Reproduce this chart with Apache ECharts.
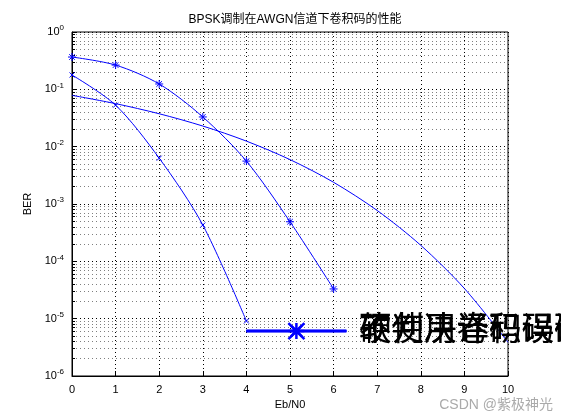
<!DOCTYPE html>
<html><head><meta charset="utf-8">
<script src="https://cdn.jsdelivr.net/npm/echarts@6/dist/echarts.min.js"></script>
<style>html,body{margin:0;background:#fff}#c{width:561px;height:420px}</style>
</head><body><div id="c"></div>
<script>
const ebn0 = [0, 1, 2, 3, 4, 5, 6, 7, 8, 9, 10];
const hardBer = [0.366, 0.265, 0.124, 0.033, 0.0056, 4.9e-4, 3.3e-5];
const softBer = [0.178, 0.053, 0.0063, 4.3e-4, 9.1e-6];
const uncodedBer = [0.0786, 0.0563, 0.0375, 0.0229, 0.0125, 0.00595, 0.00239, 7.7e-4, 1.9e-4, 3.36e-5, 3.87e-6];
const names = ['硬判决译码误码率', '软判决译码误码率', '不使用卷积码误码率'];

const STAR = 'path://M0,-10L0,10M-10,0L10,0M-7,-7L7,7M-7,7L7,-7';
const CROSS = 'path://M-7,-7L7,7M-7,7L7,-7';
const EMPTY = 'path://M0,0L0.01,0';
const blue = '#0000ff';
const pairs = arr => arr.map((v, i) => [ebn0[i], v]);
const font = 'Arial, "Liberation Sans", "Noto Sans CJK SC"';

const chart = echarts.init(document.getElementById('c'));
chart.setOption({
  animation: false,
  textStyle: {fontFamily: font},
  title: {text: 'BPSK调制在AWGN信道下卷积码的性能', left: 290, textAlign: 'center', top: 9,
    textStyle: {fontSize: 12, fontWeight: 'normal', color: '#000', fontFamily: font}},
  grid: {left: 72, right: 53, top: 32, bottom: 44, show: true, borderColor: '#000', borderWidth: 1},
  legend: {
    orient: 'vertical', right: 56, top: 38, itemGap: 3, itemWidth: 40, itemHeight: 8,
    backgroundColor: '#fff', borderColor: '#000', borderWidth: 1, padding: [4, 8],
    lineStyle: {width: 1}, itemStyle: {borderWidth: 1},
    textStyle: {fontSize: 13, color: '#000'}, data: names
  },
  xAxis: {
    type: 'value', min: 0, max: 10, interval: 1,
    name: 'Eb/N0', nameLocation: 'middle', nameGap: 20, nameTextStyle: {fontSize: 11, color: '#000'},
    axisLine: {lineStyle: {color: '#000'}}, axisTick: {inside: true, lineStyle: {color: '#000'}},
    axisLabel: {color: '#000', fontSize: 11},
    splitLine: {lineStyle: {color: '#000', type: [1, 3], width: 1}}
  },
  yAxis: {
    type: 'log', min: 1e-6, max: 1, logBase: 10,
    name: 'BER', nameLocation: 'middle', nameGap: 38, nameTextStyle: {fontSize: 11, color: '#000'},
    axisLine: {lineStyle: {color: '#000'}}, axisTick: {inside: true, lineStyle: {color: '#000'}},
    minorTick: {show: true, splitNumber: 9},
    minorSplitLine: {show: true, lineStyle: {color: '#000', type: [1, 3], opacity: 0.5}},
    axisLabel: {color: '#000', fontSize: 11,
      formatter: v => '10{s|' + Math.round(Math.log10(v)) + '}',
      rich: {s: {fontSize: 8, verticalAlign: 'top', padding: [0, 0, 8, 0], color: '#000'}}},
    splitLine: {lineStyle: {color: '#000', type: [1, 3], width: 1}}
  },
  series: [
    {name: names[0], type: 'line', data: pairs(hardBer), smooth: 0.3, symbol: STAR, symbolSize: 8,
      lineStyle: {color: blue, width: 1}, itemStyle: {color: 'none', borderColor: blue, borderWidth: 1}},
    {name: names[1], type: 'line', data: pairs(softBer), smooth: 0.3, symbol: CROSS, symbolSize: 5,
      lineStyle: {color: blue, width: 1}, itemStyle: {color: 'none', borderColor: blue, borderWidth: 1}},
    {name: names[2], type: 'line', data: pairs(uncodedBer), smooth: 0.3, showSymbol: false, symbol: EMPTY,
      lineStyle: {color: blue, width: 1}, itemStyle: {color: 'none', borderColor: 'none'}}
  ],
  graphic: [{type: 'text', right: 8, bottom: 8,
    style: {text: 'CSDN @紫极神光', fill: '#aaa', fontSize: 14, fontFamily: font}}]
});
</script></body></html>
